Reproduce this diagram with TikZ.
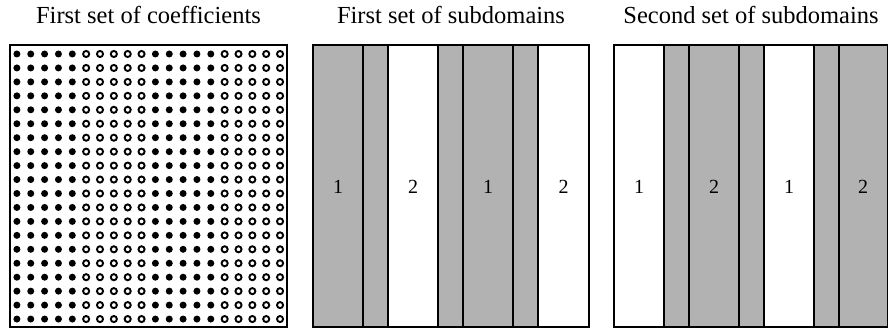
\documentclass[tikz,border=0pt]{standalone}
\usepackage{fontspec}
\setmainfont{Liberation Serif}
\begin{document}
\begin{tikzpicture}[x=1pt,y=-1pt,
  frame/.style={draw=black,line width=1.8pt},
  strip/.style={draw=black,line width=1.3pt},
  grayfill/.style={fill=black!30},
  title/.style={font=\fontsize{24.5}{28}\selectfont,anchor=base},
  num/.style={font=\fontsize{20}{24}\selectfont},
  fdot/.style={fill=black},
  hdot/.style={draw=black,line width=1.9pt}]
\useasboundingbox (0,0) rectangle (889,328);
% titles
\node[title] (t1) at (148.5,24) {First set of coefficients};
\node[title] (t2) at (451,24) {First set of subdomains};
\node[title] (t3) at (751,24) {Second set of subdomains};
% panel 1: dots
\foreach \i in {0,...,19}{
  \foreach \j in {0,...,19}{
    \pgfmathtruncatemacro{\grp}{mod(floor(\i/5),2)}
    \ifnum\grp=0
      \fill[fdot] ({16.9+13.85*\i},{54+13.95*\j}) circle (3.5);
    \else
      \draw[hdot] ({16.9+13.85*\i},{54+13.95*\j}) circle (3.05);
    \fi
  }
}
\draw[frame] (10,45) rectangle (287,327);
% panel 2
\fill[grayfill] (313,45) rectangle (388,327);
\fill[grayfill] (438,45) rectangle (538,327);
\foreach \x in {363,388,438,463,513,538}{\draw[strip] (\x,45) -- (\x,327);}
\draw[frame] (313,45) rectangle (589,327);
\node[num] (a1) at (338,187) {1};
\node[num] (a2) at (413,187) {2};
\node[num] (a3) at (488,187) {1};
\node[num] (a4) at (563.5,187) {2};
% panel 3
\fill[grayfill] (664,45) rectangle (764,327);
\fill[grayfill] (814,45) rectangle (887.5,327);
\foreach \x in {664,689,739,764,814,839}{\draw[strip] (\x,45) -- (\x,327);}
\draw[frame] (614,45) rectangle (887.5,327);
\node[num] (b1) at (639,187) {1};
\node[num] (b2) at (714,187) {2};
\node[num] (b3) at (789,187) {1};
\node[num] (b4) at (863,187) {2};
\end{tikzpicture}
\end{document}
